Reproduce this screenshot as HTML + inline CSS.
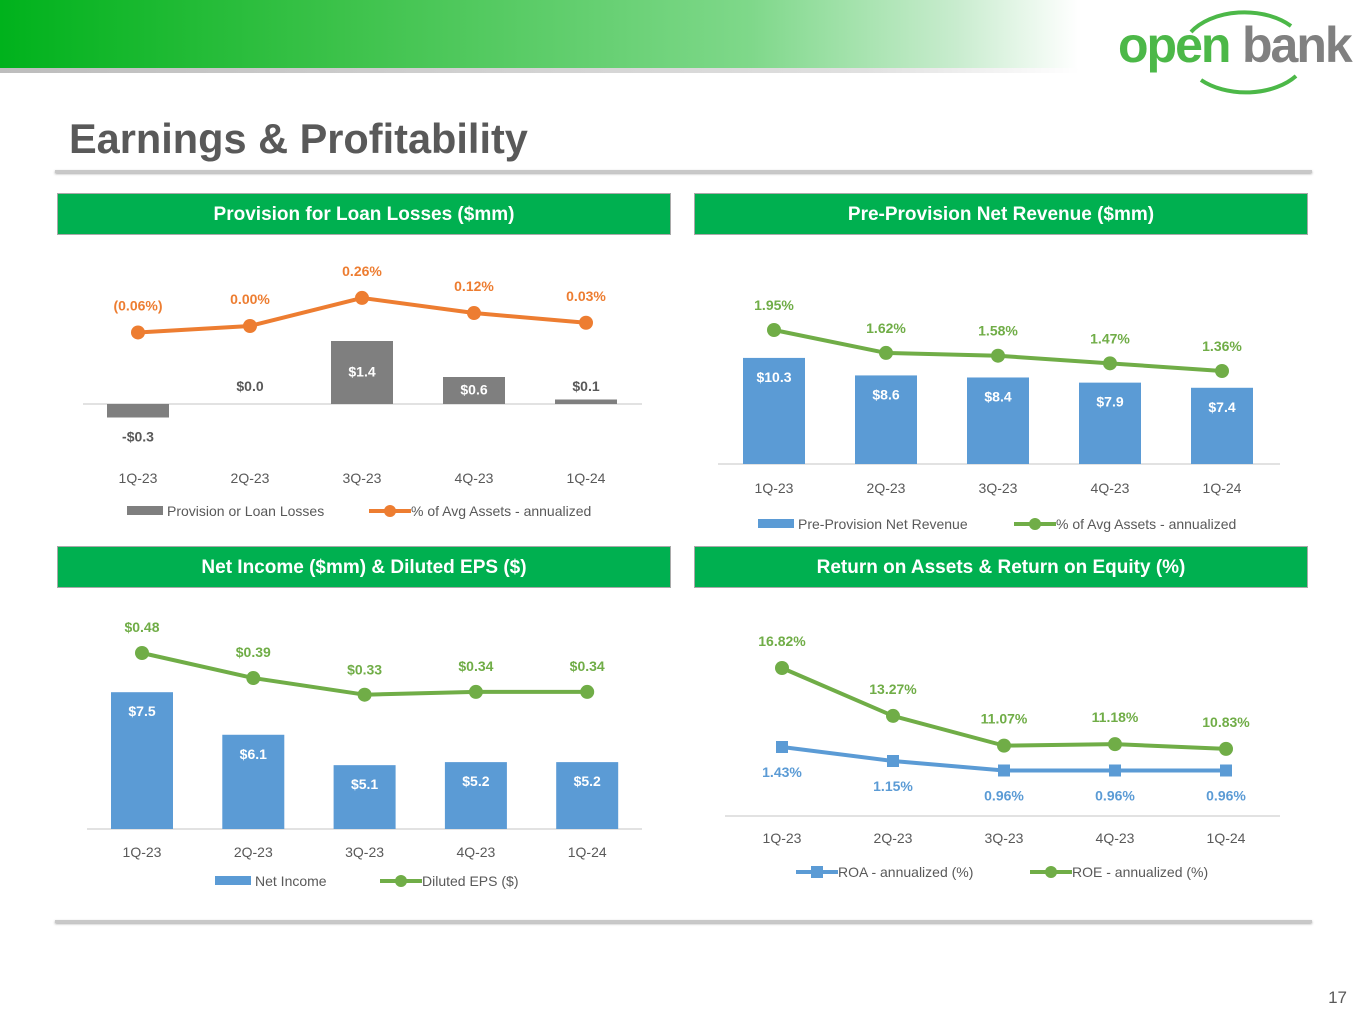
<!DOCTYPE html>
<html><head><meta charset="utf-8"><style>
body{margin:0;width:1365px;height:1024px;background:#fff;overflow:hidden;font-family:"Liberation Sans",sans-serif;position:relative}
.hdr{position:absolute;left:0;top:0;width:1365px;height:68px;background:linear-gradient(90deg,#00b21c 0%,#3cc24a 25%,#7fd88a 55%,#c8ecce 70%,#fff 79%)}
.hdrline{position:absolute;left:0;top:68px;width:1080px;height:5px;background:linear-gradient(90deg,#bdbdbd,#e0e0e0 80%,#fff)}
.title{position:absolute;left:69px;top:115px;font-size:41.5px;font-weight:bold;color:#595959}
.rule{position:absolute;left:55px;width:1257px;height:3px;background:#c8c8c8;box-shadow:0 1px 2px #aaa}
.sec{position:absolute;width:612px;height:40px;background:#00b050;border:1px solid #a9a9a9;color:#fff;font-weight:bold;font-size:19px;text-align:center;line-height:42px}
.pg{position:absolute;right:18px;top:988px;font-size:17px;color:#595959}
svg{position:absolute;left:0;top:0}
</style></head><body>
<div class="hdr"></div>
<div class="hdrline"></div>
<div style="position:absolute;left:1116px;top:4px;width:245px;height:92px">
 <svg width="245" height="92" style="position:absolute;left:0;top:0"><path d="M75 28 A62 40 0 0 1 175 22" fill="none" stroke="#4cb848" stroke-width="4"/><path d="M85 76 A62 40 0 0 0 180 72" fill="none" stroke="#4cb848" stroke-width="4"/></svg>
 <span style="position:absolute;left:2px;top:12px;font-size:50px;font-weight:bold;color:#4cb848;letter-spacing:-2px">open</span>
 <span style="position:absolute;left:126px;top:12px;font-size:50px;font-weight:bold;color:#808080;letter-spacing:-2px">bank</span>
</div>
<div class="title">Earnings &amp; Profitability</div>
<div class="rule" style="top:170px"></div>
<div class="rule" style="top:920px"></div>
<div class="sec" style="left:57px;top:193px">Provision for Loan Losses ($mm)</div>
<div class="sec" style="left:694px;top:193px">Pre-Provision Net Revenue ($mm)</div>
<div class="sec" style="left:57px;top:546px">Net Income ($mm) &amp; Diluted EPS ($)</div>
<div class="sec" style="left:694px;top:546px">Return on Assets &amp; Return on Equity (%)</div>
<div class="pg">17</div>
<svg id="chart" width="1365" height="1024"></svg>
<script>
const categories=["1Q-23","2Q-23","3Q-23","4Q-23","1Q-24"];
const provisionValues=[-0.3,0.0,1.4,0.6,0.1];
const provisionLabels=["-$0.3","$0.0","$1.4","$0.6","$0.1"];
const provisionPct=[-0.06,0.00,0.26,0.12,0.03];
const provisionPctLabels=["(0.06%)","0.00%","0.26%","0.12%","0.03%"];
const ppnrValues=[10.3,8.6,8.4,7.9,7.4];
const ppnrLabels=["$10.3","$8.6","$8.4","$7.9","$7.4"];
const ppnrPct=[1.95,1.62,1.58,1.47,1.36];
const ppnrPctLabels=["1.95%","1.62%","1.58%","1.47%","1.36%"];
const netIncomeValues=[7.5,6.1,5.1,5.2,5.2];
const netIncomeLabels=["$7.5","$6.1","$5.1","$5.2","$5.2"];
const epsValues=[0.48,0.39,0.33,0.34,0.34];
const epsLabels=["$0.48","$0.39","$0.33","$0.34","$0.34"];
const roaValues=[1.43,1.15,0.96,0.96,0.96];
const roaLabels=["1.43%","1.15%","0.96%","0.96%","0.96%"];
const roeValues=[16.82,13.27,11.07,11.18,10.83];
const roeLabels=["16.82%","13.27%","11.07%","11.18%","10.83%"];

const svg=document.getElementById('chart');
const NS='http://www.w3.org/2000/svg';
function mk(tag,attrs){const e=document.createElementNS(NS,tag);for(const k in attrs)e.setAttribute(k,attrs[k]);svg.appendChild(e);return e;}
function txt(x,y,s,fill,bold,size,anchor){const t=mk('text',{x:x,y:y,fill:fill,'font-size':size||14,'font-weight':bold?'bold':'normal','text-anchor':anchor||'middle','font-family':'"Liberation Sans",sans-serif'});t.textContent=s;return t;}
function xs(x0,step){return i=>x0+i*step;}
function lin(v0,y0,k){return v=>y0-(v-v0)*k;}

function axis(x1,x2,y,xf,labY,name){
 const l=mk('line',{x1:x1,x2:x2,y1:y,y2:y,stroke:'#d9d9d9','stroke-width':1.5});
 
 
 categories.forEach((c,i)=>{const t=txt(xf(i),labY,c,'#595959',false,14);
  
  });
}
function bars(vals,labels,xf,yf,base,color,labFn,name){
 vals.forEach((v,i)=>{const y0=yf(base),y1=yf(v);
  const r=mk('rect',{x:xf(i)-31,y:Math.min(y0,y1),width:62,height:Math.abs(y1-y0),fill:color});
  
  
  const p=labFn(v,y0,y1);
  const t=txt(xf(i),p.y,labels[i],p.fill,true,14);
  
  });
}
function line(vals,labels,xf,yf,color,marker,labOff,name){
 const pts=vals.map((v,i)=>xf(i)+','+yf(v)).join(' ');
 const pl=mk('polyline',{points:pts,fill:'none',stroke:color,'stroke-width':4,'stroke-linejoin':'round'});
 
 
 vals.forEach((v,i)=>{let m;
  if(marker==='sq')m=mk('rect',{x:xf(i)-6,y:yf(v)-6,width:12,height:12,fill:color});
  else m=mk('circle',{cx:xf(i),cy:yf(v),r:7,fill:color});
  
  
  const t=txt(xf(i),yf(v)+labOff(i),labels[i],color,true,14);
  
  });
}
function legendBox(x,y,w,color,label,name){
 const r=mk('rect',{x:x,y:y-5,width:w,height:9,fill:color});
 
 
 const t=txt(x+w+4,y+5,label,'#595959',false,14,'start');
 
 
}
function legendLine(x,y,color,marker,label,name){
 const l=mk('line',{x1:x,x2:x+42,y1:y,y2:y,stroke:color,'stroke-width':4});
 
 
 const m=marker==='sq'?mk('rect',{x:x+15,y:y-6,width:12,height:12,fill:color}):mk('circle',{cx:x+21,cy:y,r:6,fill:color});
 
 
 const t=txt(x+42,y+5,label,'#595959',false,14,'start');
 
 
}

// Chart 1: Provision
const x1=xs(138,112), yb1=lin(0,404,45), yl1=lin(0,326,108);
axis(83,642,404,x1,483,'provision');
bars(provisionValues,provisionLabels,x1,yb1,0,'#7f7f7f',(v,y0,y1)=>v<0?{y:y1+24,fill:'#595959'}:(y0-y1<20?{y:y0-13,fill:'#595959'}:{y:(y0+y1)/2+4,fill:'#fff'}),'provision');
line(provisionPct,provisionPctLabels,x1,yl1,'#ed7d31','c',()=>-22,'provision-pct');
legendBox(127,511,36,'#7f7f7f','Provision or Loan Losses','provision');
legendLine(369,511,'#ed7d31','c','% of Avg Assets - annualized','provision-pct');

// Chart 2: PPNR
const x2=xs(774,112), yb2=lin(0,464,10.3), yl2=lin(1.95,330,69.5);
axis(718,1280,464,x2,493,'ppnr');
bars(ppnrValues,ppnrLabels,x2,yb2,0,'#5b9bd5',(v,y0,y1)=>({y:y1+24,fill:'#fff'}),'ppnr');
line(ppnrPct,ppnrPctLabels,x2,yl2,'#70ad47','c',()=>-20,'ppnr-pct');
legendBox(758,524,36,'#5b9bd5','Pre-Provision Net Revenue','ppnr');
legendLine(1014,524,'#70ad47','c','% of Avg Assets - annualized','ppnr-pct');

// Chart 3: Net income
const x3=xs(142,111.3), yb3=lin(3,829,30.4), yl3=lin(0.48,653,278);
axis(87,642,829,x3,857,'net-income');
bars(netIncomeValues,netIncomeLabels,x3,yb3,3,'#5b9bd5',(v,y0,y1)=>({y:y1+24,fill:'#fff'}),'net-income');
line(epsValues,epsLabels,x3,yl3,'#70ad47','c',i=>i===2?-20:-21,'eps');
legendBox(215,881,36,'#5b9bd5','Net Income','net-income');
legendLine(380,881,'#70ad47','c','Diluted EPS ($)','eps');

// Chart 4: ROA / ROE
const x4=xs(782,111), yRoe=lin(16.82,668,13.5), yRoa=lin(1.43,747,50);
axis(725,1280,816,x4,843,'returns');
line(roeValues,roeLabels,x4,yRoe,'#70ad47','c',()=>-22,'roe');
line(roaValues,roaLabels,x4,yRoa,'#5b9bd5','sq',()=>30,'roa');
legendLine(796,872,'#5b9bd5','sq','ROA - annualized (%)','roa');
legendLine(1030,872,'#70ad47','c','ROE - annualized (%)','roe');
</script>
</body></html>
